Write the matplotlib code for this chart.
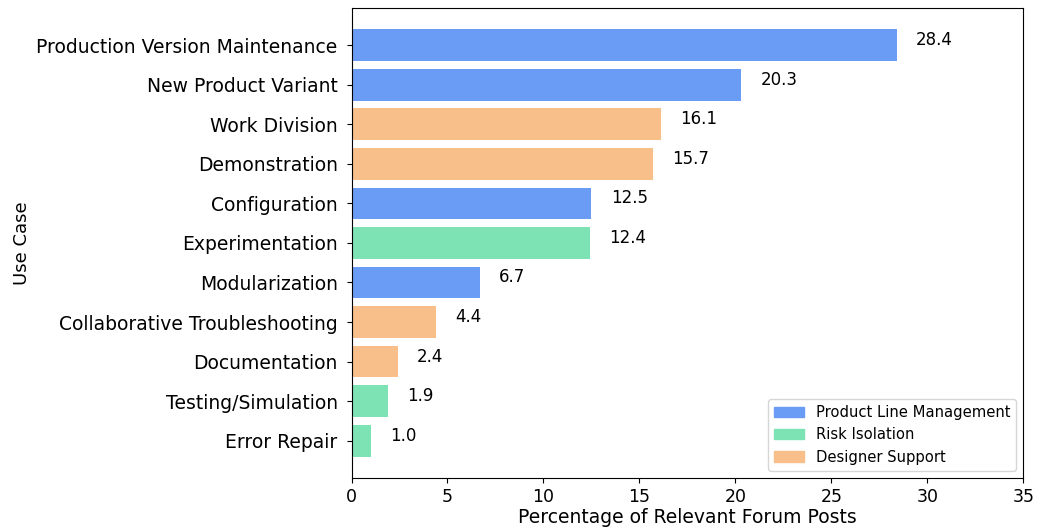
import matplotlib.pyplot as plt
from matplotlib.patches import Patch

use_cases = ["Production Version Maintenance", "New Product Variant", "Work Division",
             "Demonstration", "Configuration", "Experimentation", "Modularization",
             "Collaborative Troubleshooting", "Documentation", "Testing/Simulation",
             "Error Repair"]
percent = [28.4, 20.3, 16.1, 15.7, 12.5, 12.4, 6.7, 4.4, 2.4, 1.9, 1.0]
category = ["plm", "plm", "ds", "ds", "plm", "ri", "plm", "ds", "ds", "ri", "ri"]

colors = {"plm": "#6a9cf6", "ri": "#7de3b4", "ds": "#f8bf8a"}
names = {"plm": "Product Line Management", "ri": "Risk Isolation", "ds": "Designer Support"}

fig, ax = plt.subplots(figsize=(10.4, 5.31), dpi=100)

labels = use_cases[::-1]
vals = percent[::-1]
cols = [colors[c] for c in category[::-1]]
ax.barh(labels, vals, color=cols, height=0.8)

for i, v in enumerate(vals):
    ax.text(v + 1, i, f"{v:.1f}", fontsize=12)

ax.set_xlim(0, 35)
ax.set_xlabel("Percentage of Relevant Forum Posts", fontsize=13.5, labelpad=2)
ax.set_ylabel("Use Case", fontsize=13)
ax.tick_params(axis="y", labelsize=13.5, pad=6.5)
ax.tick_params(axis="x", labelsize=12.5)

handles = [Patch(color=colors[k], label=names[k]) for k in ["plm", "ri", "ds"]]
ax.legend(handles=handles, loc="lower right", fontsize=10.6)

plt.subplots_adjust(left=0.338, right=0.984, top=0.985, bottom=0.10)
plt.savefig("out.png")
